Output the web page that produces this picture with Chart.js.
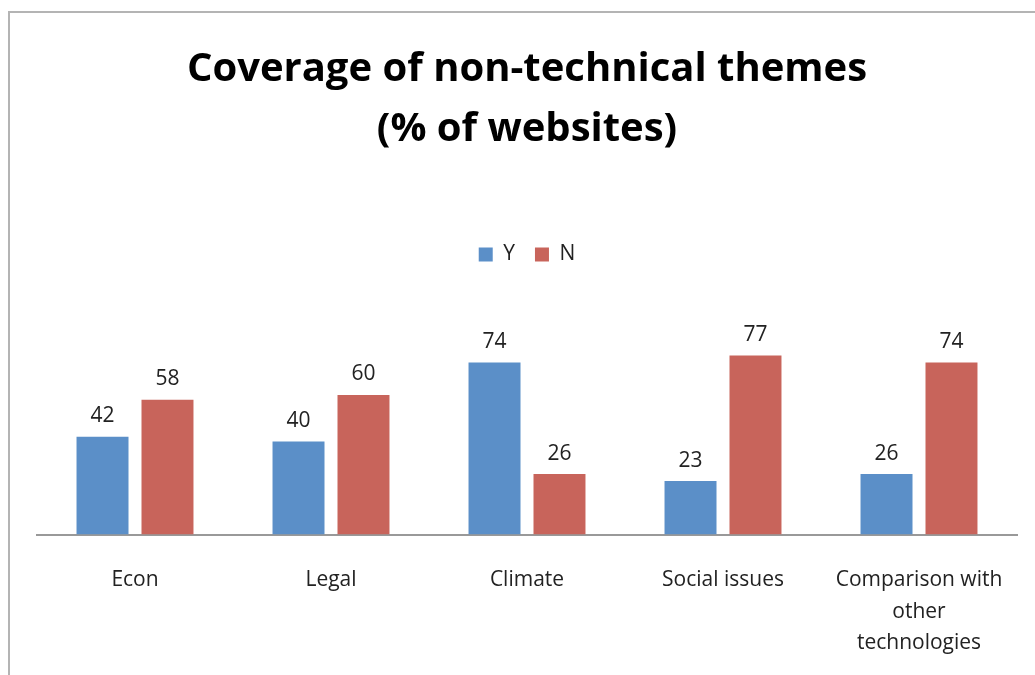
<!DOCTYPE html>
<html>
<head>
<meta charset="utf-8">
<script src="https://cdn.jsdelivr.net/npm/chart.js@4"></script>
<style>
  body { margin: 0; background: #fff; }
  #wrap { position: relative; width: 1035px; height: 675px; overflow: hidden; }
  #frame { position: absolute; left: 8px; top: 11px; width: 2000px; height: 2000px;
           border-left: 2px solid #b4b4b4; border-top: 2px solid #b4b4b4; }
  #themesChart { position: absolute; left: 0; top: 0; }
</style>
</head>
<body>
<div id="wrap">
  <div id="frame"></div>
  <canvas id="themesChart" width="1035" height="675"></canvas>
</div>
<script>
const categories = ["Econ", "Legal", "Climate", "Social issues", ["Comparison with", "other", "technologies"]];
const yesValues = [42, 40, 74, 23, 26];
const noValues = [58, 60, 26, 77, 74];

const FONT = "'Open Sans', sans-serif";

// draws the value above every bar
const barValues = {
  id: "barValues",
  afterDatasetsDraw(chart) {
    const ctx = chart.ctx;
    ctx.save();
    ctx.font = "21px " + FONT;
    ctx.fillStyle = "#222";
    ctx.textAlign = "center";
    ctx.textBaseline = "bottom";
    chart.data.datasets.forEach((ds, i) => {
      chart.getDatasetMeta(i).data.forEach((bar, j) => {
        ctx.fillText(ds.data[j], bar.x, bar.y - 10);
      });
    });
    ctx.restore();
  }
};

// extra room below the legend
const legendGap = {
  id: "legendGap",
  beforeInit(chart) {
    const fit = chart.legend.fit;
    chart.legend.fit = function () {
      fit.bind(chart.legend)();
      this.height += 27;
    };
  }
};

new Chart(document.getElementById("themesChart"), {
  type: "bar",
  data: {
    labels: categories,
    datasets: [
      { label: "Y", data: yesValues, backgroundColor: "#5b8fc8", categoryPercentage: 0.663, barPercentage: 0.8 },
      { label: "N", data: noValues, backgroundColor: "#c8645b", categoryPercentage: 0.663, barPercentage: 0.8 }
    ]
  },
  plugins: [barValues, legendGap],
  options: {
    responsive: false,
    animation: false,
    layout: { padding: { left: 37, right: 18, top: 30, bottom: -14 } },
    scales: {
      x: {
        grid: { display: false, drawTicks: false },
        border: { color: "#999", width: 2 },
        ticks: { color: "#222", padding: 30, font: { family: FONT, size: 21, lineHeight: 1.5 }, maxRotation: 0 }
      },
      y: { display: false, min: 0, max: 100 }
    },
    plugins: {
      title: {
        display: true,
        text: ["Coverage of non-technical themes", "(% of websites)"],
        color: "#000",
        font: { family: FONT, size: 40, weight: "bold", lineHeight: 1.5 },
        padding: { top: 10, bottom: 64 }
      },
      legend: {
        labels: { color: "#222", boxWidth: 14, boxHeight: 14, padding: 20, font: { family: FONT, size: 21 } }
      },
      tooltip: { enabled: false }
    }
  }
});
</script>
</body>
</html>
